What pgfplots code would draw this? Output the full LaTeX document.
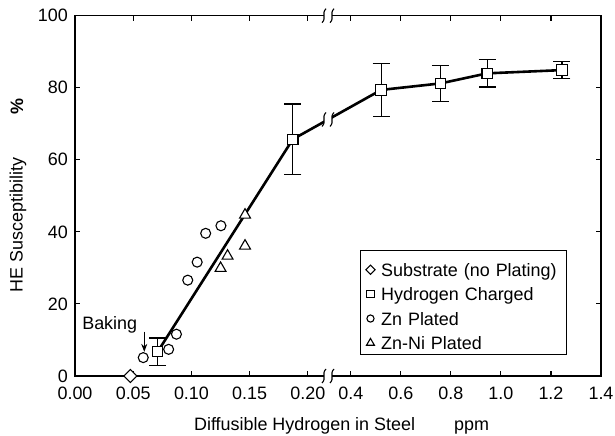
\documentclass[border=0pt]{standalone}
\usepackage{fontspec}
\setmainfont{Liberation Sans}
\usepackage{pgfplots}
\pgfplotsset{compat=1.18}
\usetikzlibrary{calc,arrows.meta}

\pgfplotsset{
  lgmark/.style={legend image code/.code={%
    \path (-6bp,0bp) (4bp,0bp);
    \draw[##1, every mark/.append style={scale=0.72}] plot coordinates {(0bp,0bp)};}},
  lgmarktop/.style={legend image code/.code={%
    \path (-6bp,0bp) (4bp,13.5bp);
    \draw[##1, every mark/.append style={scale=0.72}] plot coordinates {(0bp,0bp)};}},
}

% axis break: two squiggles with a white gap
\newcommand\brk[1]{%
  \begin{scope}[shift={(#1)}]
    \fill[white] (-4bp,-4.5bp) rectangle (4bp,4.5bp);
    \draw[line width=1.1bp] (-2bp,7bp) .. controls (-7bp,2bp) and (-1bp,-2bp) .. (-6bp,-7bp);
    \draw[line width=1.1bp] (6bp,7bp) .. controls (1bp,2bp) and (7bp,-2bp) .. (2bp,-7bp);
  \end{scope}}

\begin{document}
\begin{tikzpicture}
\begin{axis}[
  scale only axis, width=526bp, height=360.3bp,
  font=\fontsize{18}{21}\selectfont,
  /pgf/number format/assume math mode=true,
  clip=false,
  xmin=0, xmax=1.4, ymin=0, ymax=100,
  % broken x axis: 0-0.20 and 0.4-1.4 on different scales
  x coord trafo/.code={\pgfmathparse{ifthenelse(#1<0.3, #1*11.64, 2.757+(#1-0.4)*2.5)}},
  xtick={0,0.05,0.1,0.15,0.2,0.4,0.6,0.8,1.0,1.2,1.4},
  xticklabels={0.00,0.05,0.10,0.15,0.20,0.4,0.6,0.8,1.0,1.2,1.4},
  ytick={0,20,40,60,80,100},
  xticklabel style={anchor=north, inner sep=0pt, yshift=-11bp},
  yticklabel style={anchor=east, inner sep=0pt, xshift=-7bp},
  axis line style={line width=1.3bp},
  tick style={line width=1.1bp, black},
  major tick length=5bp,
  legend style={at={(0.9348,0.0583)}, anchor=south east, draw=black, line width=1.1bp,
    inner xsep=3bp, inner ysep=5bp, row sep=11.4bp, column sep=6bp,
    nodes={inner sep=0bp, text height=13bp, text depth=0bp, text width=182bp},
    cells={anchor=west}},
]
  % trend line
  \addplot[line width=2.6bp, forget plot] coordinates {
    (0.071,6.75) (0.187,65.7) (0.521,79.4) (0.758,81.2) (0.945,84.0) (1.244,84.9)};

  % substrate
  \addplot[only marks, lgmarktop, mark=square*, mark size=4.6bp,
    mark options={rotate=45, fill=white, draw=black, line width=1.1bp}]
    coordinates {(0.0476,0)};
  \addlegendentry{Substrate (no Plating)}

  % hydrogen charged
  \addplot[only marks, lgmark, mark=square*, mark size=5.2bp,
    mark options={fill=white, draw=black, line width=1.1bp},
    error bars/.cd, y dir=both, y explicit,
    error bar style={line width=1.1bp, black},
    error mark options={rotate=90, mark size=8.5bp, line width=1.1bp, black}]
    coordinates {
    (0.071,6.75) +- (0,3.8)
    (0.187,65.7) +- (0,9.8)
    (0.521,79.4) +- (0,7.4)
    (0.758,81.2) +- (0,4.9)
    (0.945,84.0) +- (0,3.8)
    (1.244,84.9) +- (0,2.4)};
  \addlegendentry{Hydrogen Charged}

  % Zn plated
  \addplot[only marks, lgmark, mark=*, mark size=5bp,
    mark options={fill=white, draw=black, line width=1.1bp}]
    coordinates {
    (0.0586,5.1) (0.0804,7.4) (0.0871,11.6) (0.0968,26.6)
    (0.1049,31.6) (0.1122,39.6) (0.1253,41.7)};
  \addlegendentry{Zn Plated}

  % Zn-Ni plated
  \addplot[only marks, lgmark, mark=triangle*, mark size=6.3bp,
    mark options={fill=white, draw=black, line width=1.1bp}]
    coordinates {
    (0.125,29.9) (0.131,33.3) (0.146,44.7) (0.146,36.1)};
  \addlegendentry{Zn-Ni Plated}

  \node at (rel axis cs:0.066,0.142) {Baking};
  \draw[line width=1.1bp, -{Stealth[length=8bp,width=6bp]}]
    (rel axis cs:0.1317,0.123) -- (rel axis cs:0.1317,0.067);

  \coordinate (SW) at (rel axis cs:0,0);
  \coordinate (btop) at (rel axis cs:0.481,1);
  \coordinate (bbot) at (rel axis cs:0.481,0);
  \coordinate (bcur) at (rel axis cs:0.481,0.712);
  \coordinate (ylab) at (rel axis cs:0,0.419);
  \coordinate (ypct) at (rel axis cs:0,0.7466);
  \coordinate (xlab) at (rel axis cs:0.4365,0);
  \coordinate (xppm) at (rel axis cs:0.754,0);
\end{axis}

\brk{btop}
\brk{bbot}
\brk{bcur}

\node[rotate=90, font=\fontsize{18}{21}\selectfont] at ($(ylab)+(-57bp,0)$) {HE Susceptibility};
\node[rotate=90, font=\fontsize{18}{21}\selectfont\bfseries] at ($(ypct)+(-58bp,0)$) {\%};
\node[anchor=base, font=\fontsize{18}{21}\selectfont] at ($(xlab)+(0,-54bp)$) {Diffusible Hydrogen in Steel};
\node[anchor=base, font=\fontsize{18}{21}\selectfont] at ($(xppm)+(0,-54bp)$) {ppm};

\pgfresetboundingbox
\path ($(SW)+(-75bp,-60bp)$) rectangle ($(SW)+(540bp,376bp)$);
\end{tikzpicture}
\end{document}
